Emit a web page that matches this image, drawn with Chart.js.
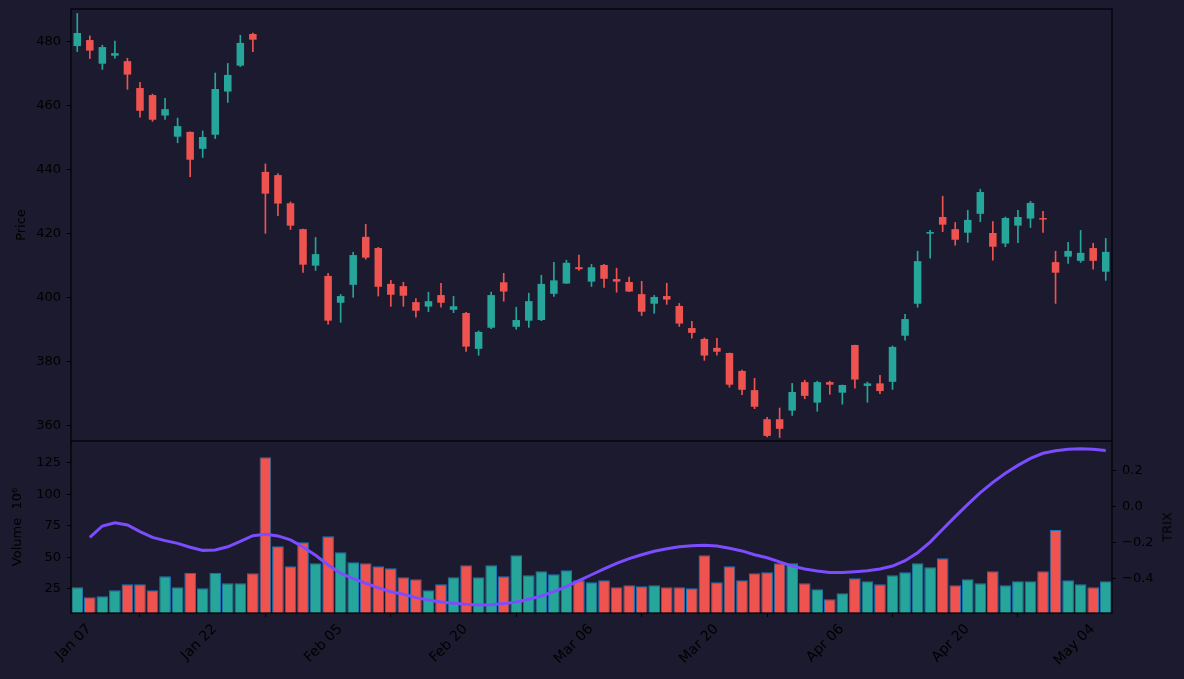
<!DOCTYPE html>
<html>
<head>
<meta charset="utf-8">
<script src="https://cdn.jsdelivr.net/npm/chart.js@4.4.1/dist/chart.umd.min.js"></script>
<style>
  html, body { margin: 0; padding: 0; background: #1b1a2e; }
  #wrap { position: relative; width: 1184px; height: 679px; }
  #price-chart { position: absolute; left: 0; top: 0; }
  #volume-chart { position: absolute; left: 0; top: 441px; }
  #trix-title {
    position: absolute; left: 1167px; top: 527px;
    font: 13px 'DejaVu Sans'; color: #000000; white-space: nowrap;
    transform: translate(-50%, -50%) rotate(-90deg);
  }
</style>
</head>
<body>
<div id="wrap">
  <canvas id="price-chart" width="1184" height="441"></canvas>
  <canvas id="volume-chart" width="1184" height="238"></canvas>
  <div id="trix-title">TRIX</div>
</div>
<script>
'use strict';

// trading days, Jan 07 - May 06
const dates = [
    'Jan 07', 'Jan 08', 'Jan 09', 'Jan 12', 'Jan 13', 'Jan 14', 'Jan 15', 'Jan 16', 'Jan 20', 'Jan 21',
    'Jan 22', 'Jan 23', 'Jan 26', 'Jan 27', 'Jan 28', 'Jan 29', 'Jan 30', 'Feb 02', 'Feb 03', 'Feb 04',
    'Feb 05', 'Feb 06', 'Feb 09', 'Feb 10', 'Feb 11', 'Feb 12', 'Feb 13', 'Feb 17', 'Feb 18', 'Feb 19',
    'Feb 20', 'Feb 23', 'Feb 24', 'Feb 25', 'Feb 26', 'Feb 27', 'Mar 02', 'Mar 03', 'Mar 04', 'Mar 05',
    'Mar 06', 'Mar 09', 'Mar 10', 'Mar 11', 'Mar 12', 'Mar 13', 'Mar 16', 'Mar 17', 'Mar 18', 'Mar 19',
    'Mar 20', 'Mar 23', 'Mar 24', 'Mar 25', 'Mar 26', 'Mar 27', 'Mar 30', 'Mar 31', 'Apr 01', 'Apr 02',
    'Apr 06', 'Apr 07', 'Apr 08', 'Apr 09', 'Apr 10', 'Apr 13', 'Apr 14', 'Apr 15', 'Apr 16', 'Apr 17',
    'Apr 20', 'Apr 21', 'Apr 22', 'Apr 23', 'Apr 24', 'Apr 27', 'Apr 28', 'Apr 29', 'Apr 30', 'May 01',
    'May 04', 'May 05', 'May 06'];

const openPrices = [
    478.5, 480.4, 473.0, 475.5, 473.8, 465.4, 463.2, 456.8, 450.2, 451.7,
    446.4, 450.8, 464.3, 472.4, 482.3, 439.2, 438.2, 429.4, 421.3, 409.9,
    406.7, 398.3, 403.9, 418.9, 415.4, 404.2, 403.5, 398.5, 397.1, 400.7,
    396.1, 395.1, 383.9, 390.5, 404.7, 390.8, 392.7, 392.9, 401.1, 404.3,
    409.4, 404.9, 410.1, 405.7, 404.8, 401.0, 398.0, 400.4, 397.3, 390.4,
    387.0, 384.2, 382.6, 377.0, 371.0, 361.9, 361.9, 364.6, 373.5, 367.1,
    373.5, 370.2, 385.1, 372.3, 373.1, 373.6, 388.0, 398.0, 419.9, 425.1,
    421.3, 420.2, 426.1, 420.1, 416.8, 422.4, 424.6, 424.7, 411.0, 412.7,
    411.4, 415.4, 408.0];
const closePrices = [
    482.6, 477.1, 478.2, 476.3, 469.6, 458.3, 455.5, 458.8, 453.5, 443.0,
    450.1, 465.1, 469.5, 479.5, 480.5, 432.4, 429.3, 422.4, 410.2, 413.5,
    392.7, 400.4, 413.2, 412.4, 403.3, 400.8, 400.5, 395.8, 398.8, 398.3,
    397.2, 384.6, 389.2, 400.7, 401.8, 392.9, 398.8, 404.2, 405.3, 410.8,
    408.8, 409.4, 405.8, 404.9, 401.8, 395.5, 400.1, 399.3, 391.8, 388.9,
    381.8, 383.0, 372.7, 371.1, 365.8, 356.7, 358.9, 370.4, 369.2, 373.5,
    372.7, 372.6, 374.3, 373.1, 370.7, 384.5, 393.2, 411.3, 420.4, 422.7,
    418.0, 424.2, 432.9, 415.8, 424.8, 425.1, 429.5, 424.3, 407.7, 414.5,
    413.9, 411.4, 414.2];
const highPrices = [
    488.7, 481.7, 478.8, 480.1, 474.7, 467.2, 463.5, 462.2, 456.0, 451.7,
    452.0, 470.1, 473.1, 481.9, 482.6, 441.7, 438.7, 429.8, 421.3, 418.7,
    407.5, 400.9, 414.1, 422.8, 415.6, 405.3, 404.7, 399.6, 401.6, 404.4,
    400.3, 395.3, 389.5, 401.6, 407.5, 396.9, 401.3, 406.9, 410.9, 411.6,
    413.2, 410.3, 410.3, 409.1, 406.3, 405.0, 400.6, 404.4, 398.1, 392.5,
    387.3, 387.2, 382.6, 377.3, 374.7, 362.5, 365.4, 373.1, 374.1, 373.8,
    373.8, 372.6, 385.1, 373.5, 375.6, 384.8, 394.7, 414.4, 420.9, 431.6,
    423.4, 427.2, 433.8, 423.7, 425.1, 427.2, 430.0, 426.9, 414.4, 417.2,
    420.9, 416.9, 418.4];
const lowPrices = [
    476.8, 474.6, 471.2, 474.7, 465.0, 456.3, 455.0, 455.6, 448.3, 437.7,
    443.7, 449.6, 460.9, 472.1, 476.8, 420.0, 425.5, 421.2, 407.8, 408.4,
    391.6, 392.2, 400.0, 411.9, 400.4, 397.2, 397.2, 393.8, 395.5, 396.9,
    395.2, 383.1, 381.9, 390.2, 398.8, 390.0, 390.6, 392.7, 400.3, 404.3,
    408.4, 403.4, 403.1, 401.6, 401.8, 394.3, 395.0, 397.8, 390.9, 387.2,
    380.3, 381.9, 371.9, 369.6, 365.2, 356.4, 356.2, 363.1, 368.3, 364.4,
    369.7, 366.6, 371.6, 367.2, 369.9, 371.2, 386.6, 396.9, 412.2, 420.5,
    416.3, 417.2, 423.6, 411.6, 415.8, 417.1, 421.8, 420.3, 398.1, 410.6,
    410.9, 408.8, 405.3];

// volume in millions
const volumes = [
    26.1, 18.2, 19.0, 23.7, 28.5, 28.5, 23.7, 34.8, 26.1, 37.7,
    25.3, 37.7, 29.3, 29.3, 37.2, 129.3, 58.6, 42.8, 61.8, 45.1,
    66.6, 53.9, 45.9, 45.1, 42.8, 41.2, 34.0, 32.4, 23.7, 28.5,
    34.0, 43.6, 34.0, 43.6, 34.8, 51.5, 35.6, 38.8, 36.4, 39.6,
    31.6, 30.1, 31.6, 26.1, 27.7, 26.9, 27.7, 26.1, 26.1, 25.3,
    51.5, 30.1, 42.8, 31.6, 37.2, 38.0, 45.1, 45.1, 29.3, 24.5,
    16.6, 21.3, 33.2, 30.9, 28.5, 35.6, 38.0, 45.1, 42.0, 49.1,
    27.7, 32.4, 29.3, 38.8, 27.7, 30.9, 30.9, 38.8, 71.6, 31.6,
    28.5, 26.1, 30.9];

const trixValues = [
    null, -0.170, -0.107, -0.089, -0.101, -0.138, -0.170, -0.188, -0.203, -0.225,
    -0.242, -0.240, -0.222, -0.192, -0.161, -0.153, -0.162, -0.184, -0.223, -0.269,
    -0.323, -0.369, -0.399, -0.424, -0.450, -0.471, -0.485, -0.504, -0.517, -0.528,
    -0.535, -0.541, -0.545, -0.543, -0.537, -0.528, -0.513, -0.495, -0.471, -0.443,
    -0.410, -0.377, -0.345, -0.314, -0.288, -0.266, -0.247, -0.233, -0.222, -0.216,
    -0.214, -0.218, -0.230, -0.245, -0.266, -0.283, -0.306, -0.329, -0.345, -0.356,
    -0.364, -0.364, -0.360, -0.355, -0.345, -0.329, -0.299, -0.255, -0.196, -0.125,
    -0.055, 0.013, 0.078, 0.135, 0.185, 0.229, 0.268, 0.296, 0.310, 0.318,
    0.321, 0.318, 0.312];

const priceTicks = [360, 380, 400, 420, 440, 460, 480];
const volumeTicks = [25, 50, 75, 100, 125];
const trixTicks = [-0.4, -0.2, 0.0, 0.2];

const upColor = '#26a69a';
const downColor = '#ef5350';
const candleColors = openPrices.map(function (o, i) {
    return closePrices[i] >= o ? upColor : downColor;
});

Chart.defaults.font.family = 'DejaVu Sans';
Chart.defaults.font.size = 13;
Chart.defaults.color = '#000000';
Chart.defaults.animation = false;

const framePlugin = {
    id: 'frame',
    afterDraw: function (chart) {
        let a = chart.chartArea;
        let ctx = chart.ctx;
        ctx.save();
        ctx.strokeStyle = '#000000';
        ctx.lineWidth = 1.2;
        ctx.strokeRect(a.left, a.top, a.right - a.left, a.bottom - a.top);
        ctx.restore();
    },
};

const tickMarks = {display: true, drawOnChartArea: false, drawTicks: true, tickLength: 4, color: '#000000'};

function fixedTicks(list) {
    return function (axis) {
        axis.ticks = list.map(function (v) { return {value: v}; });
    };
}

// fixed axis size, no extra label padding pushed onto the chart area
function fixedSize(w, h) {
    return function (axis) {
        if (w) { axis.width = w; }
        if (h) { axis.height = h; }
        axis.paddingTop = 0;
        axis.paddingBottom = 0;
        axis.paddingLeft = 0;
        axis.paddingRight = 0;
    };
}

new Chart(document.getElementById('price-chart'), {
    type: 'bar',
    data: {
        labels: dates,
        datasets: [
            {
                label: 'wick',
                data: dates.map(function (d, i) { return [lowPrices[i], highPrices[i]]; }),
                backgroundColor: candleColors,
                barThickness: 1,
                grouped: false,
                order: 2,
            },
            {
                label: 'body',
                data: dates.map(function (d, i) { return [openPrices[i], closePrices[i]]; }),
                backgroundColor: candleColors,
                barPercentage: 0.6,
                categoryPercentage: 1,
                minBarLength: 1.5,
                grouped: false,
                order: 1,
            },
        ],
    },
    options: {
        responsive: false,
        layout: {padding: {top: 9, right: 72, left: 0, bottom: 0}},
        plugins: {legend: {display: false}, tooltip: {enabled: false}},
        scales: {
            x: {display: false, offset: true},
            y: {
                min: 355.1,
                max: 490.1,
                afterBuildTicks: fixedTicks(priceTicks),
                afterFit: fixedSize(71, 0),
                grid: tickMarks,
                border: {display: false},
                ticks: {padding: 6},
                title: {display: true, text: 'Price', padding: {top: 14, bottom: 0}},
            },
        },
    },
    plugins: [framePlugin],
});

new Chart(document.getElementById('volume-chart'), {
    type: 'bar',
    data: {
        labels: dates,
        datasets: [
            {
                type: 'line',
                label: 'TRIX',
                data: trixValues,
                yAxisID: 'yTrix',
                borderColor: '#7c4dff',
                borderWidth: 3,
                pointRadius: 0,
                tension: 0,
                order: 0,
            },
            {
                label: 'Volume',
                data: volumes,
                yAxisID: 'yVol',
                backgroundColor: candleColors,
                borderColor: '#1f77b4',
                borderWidth: 1,
                barPercentage: 0.93,
                categoryPercentage: 1,
                order: 1,
            },
        ],
    },
    options: {
        responsive: false,
        layout: {padding: 0},
        plugins: {legend: {display: false}, tooltip: {enabled: false}},
        scales: {
            x: {
                offset: true,
                afterFit: fixedSize(0, 66),
                grid: tickMarks,
                border: {display: false},
                ticks: {
                    autoSkip: false,
                    minRotation: 45,
                    maxRotation: 45,
                    padding: 4,
                    labelOffset: 12,
                    font: {size: 14},
                    callback: function (value, index) {
                        return index % 10 === 0 ? dates[index] : null;
                    },
                },
            },
            yVol: {
                position: 'left',
                min: 5.7,
                max: 142.2,
                afterBuildTicks: fixedTicks(volumeTicks),
                afterFit: fixedSize(71, 0),
                grid: tickMarks,
                border: {display: false},
                ticks: {padding: 6},
                title: {display: true, text: 'Volume  10\u2076', padding: {top: 10, bottom: 0}},
            },
            yTrix: {
                position: 'right',
                min: -0.589,
                max: 0.364,
                afterBuildTicks: fixedTicks(trixTicks),
                afterFit: fixedSize(72, 0),
                grid: tickMarks,
                border: {display: false},
                ticks: {
                    padding: 6,
                    callback: function (v) { return v.toFixed(1).replace('-', '\u2212'); },
                },
            },
        },
    },
    plugins: [framePlugin],
});
</script>
</body>
</html>
